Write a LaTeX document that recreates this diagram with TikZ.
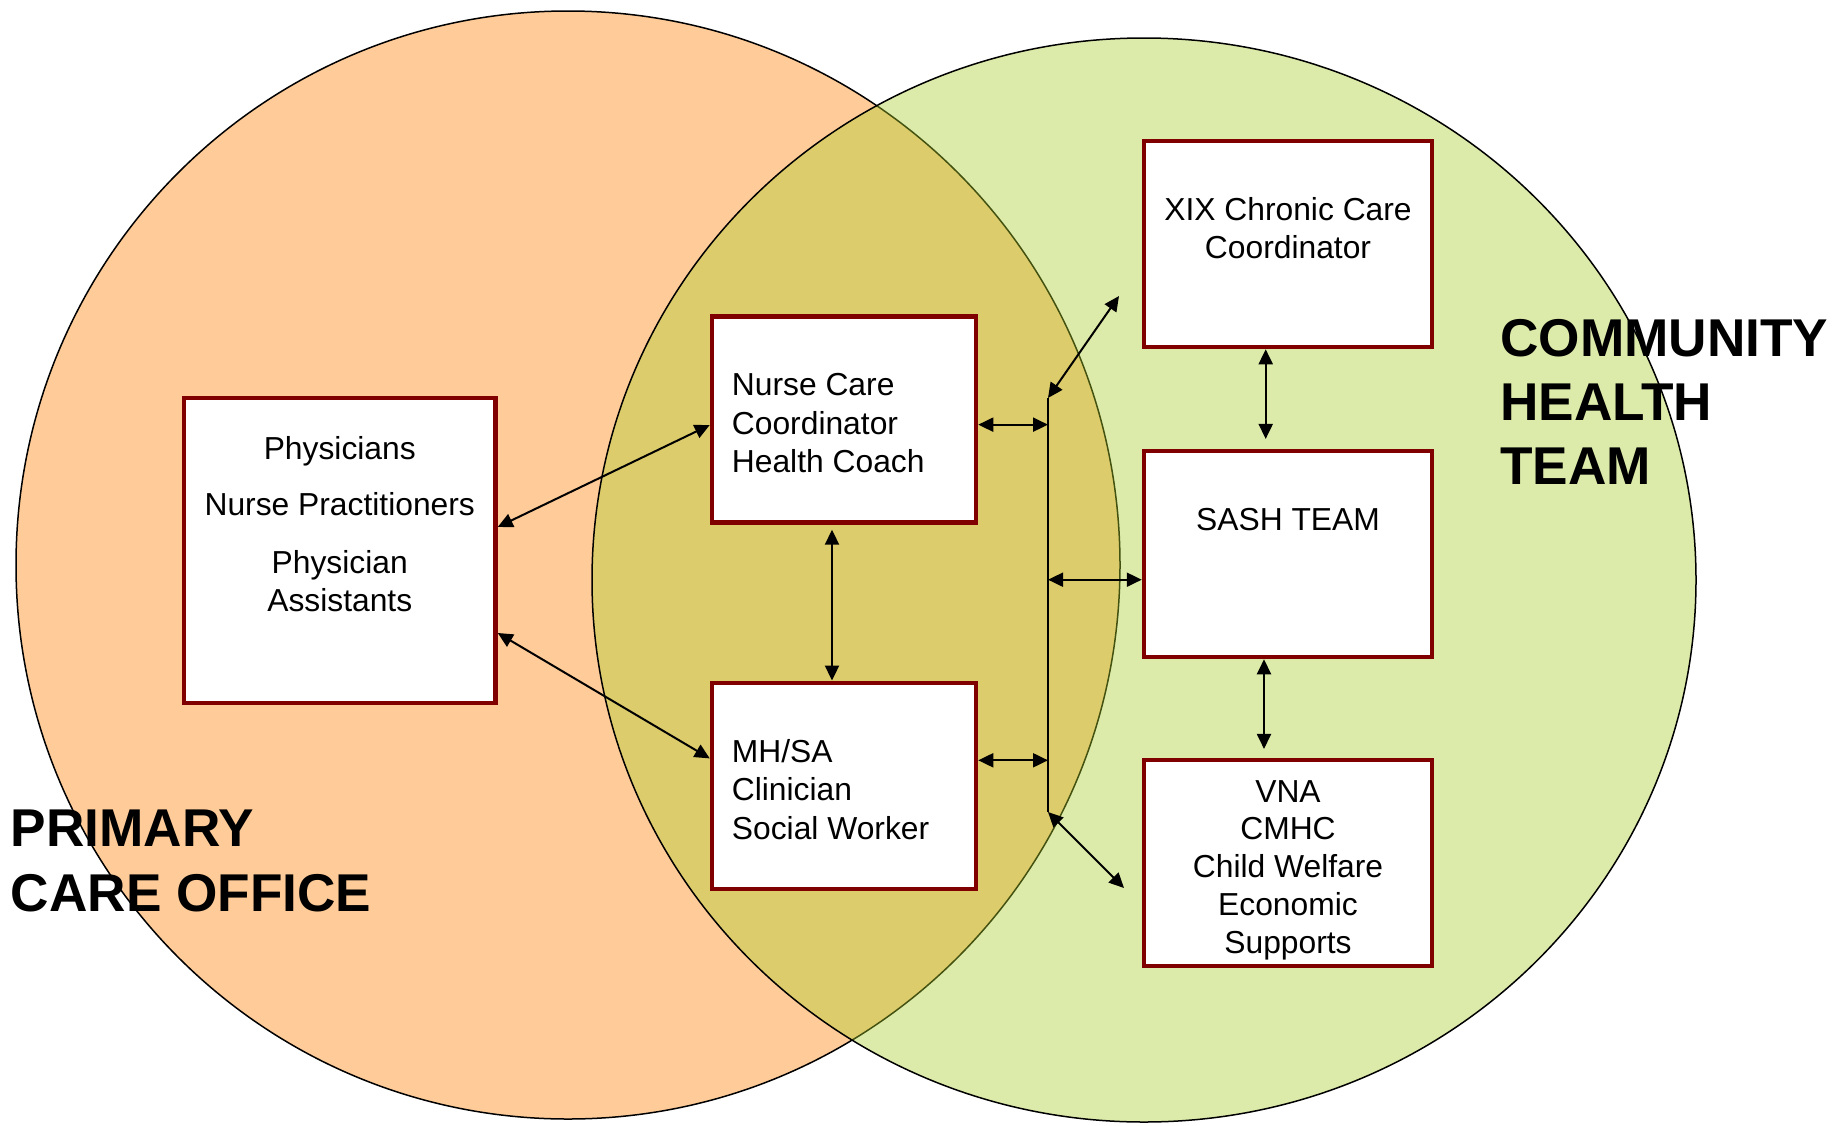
\documentclass[tikz,border=0pt]{standalone}
\usepackage{fontspec}
\setmainfont{Liberation Sans}
\usetikzlibrary{arrows.meta,calc}
\definecolor{pcoorange}{RGB}{255,204,153}
\definecolor{chtgreen}{RGB}{170,205,42}
\definecolor{boxred}{RGB}{128,0,0}
\tikzset{
  venn/.style={line width=0.75pt},
  boxnode/.style={draw=boxred, fill=white, line width=2.25pt, inner sep=0pt},
  wide/.style={minimum width=155.75pt, minimum height=152.5pt},
  midbox/.style={minimum width=132pt, minimum height=103pt},
  rightbox/.style={minimum width=144pt, minimum height=103pt},
  boxtext/.style={inner sep=0pt, font=\fontsize{15.9pt}{19pt}\selectfont},
  biglabel/.style={inner sep=0pt, align=left, anchor=base west},
  link/.style={line width=1pt, {Triangle[length=7.5pt,width=7pt]}-{Triangle[length=7.5pt,width=7pt]}},
  busline/.style={line width=1pt}
}
\begin{document}
\begin{tikzpicture}[x=0.5pt,y=-0.5pt]
\useasboundingbox (0,0) rectangle (1836,1125);
% circles
\fill[pcoorange] (568,565) ellipse [x radius=276pt, y radius=277pt];
\draw[venn] (568,565) ellipse [x radius=276pt, y radius=277pt];
\fill[chtgreen, fill opacity=0.4] (1144,580) ellipse [x radius=276pt, y radius=271pt];
\draw[venn] (1144,580) ellipse [x radius=276pt, y radius=271pt];

% boxes
\node[boxnode, wide] (pco) at (339.75,550.5) {};
\node[boxnode, midbox] (nurse) at (844,419.25) {};
\node[boxnode, midbox] (mh) at (844,785.8) {};
\node[boxnode, rightbox] (xix) at (1288,244) {};
\node[boxnode, rightbox] (sash) at (1288,554) {};
\node[boxnode, rightbox] (vna) at (1288,863) {};

% texts (multi-line nodes: base anchor near the last baseline)
\node[boxtext, align=center, anchor=base, font=\fontsize{15.9pt}{18.65pt}\selectfont] (pco-t) at (339.75,611)
  {Physicians\\[9.5pt] Nurse Practitioners\\[10.3pt] Physician\\ Assistants};
\node[boxtext, align=left, anchor=base west, font=\fontsize{15.9pt}{19.15pt}\selectfont] (nurse-t) at (731.5,472.4)
  {Nurse Care\\ Coordinator\\ Health Coach};
\node[boxtext, align=left, anchor=base west, font=\fontsize{15.9pt}{19.15pt}\selectfont] (mh-t) at (731.5,839)
  {MH/SA\\ Clinician\\ Social Worker};
\node[boxtext, align=center, anchor=base] (xix-t) at (1288,258.3)
  {XIX Chronic Care\\ Coordinator};
\node[boxtext, align=center, anchor=base] (sash-t) at (1288,530)
  {SASH TEAM};
\node[boxtext, align=center, anchor=base, font=\fontsize{15.9pt}{18.9pt}\selectfont] (vna-t) at (1288,953.2)
  {VNA\\ CMHC\\ Child Welfare\\ Economic\\ Supports};

\node[biglabel, font=\fontsize{26.6pt}{31.85pt}\selectfont\bfseries] (cht) at (1500,484) {COMMUNITY\\ HEALTH\\ TEAM};
\node[biglabel, font=\fontsize{26.6pt}{32.15pt}\selectfont\bfseries] (pcolabel) at (10.5,911) {PRIMARY\\ CARE OFFICE};

% bus
\coordinate (bustop) at (1048,398);
\coordinate (busbot) at (1048,812);
\coordinate (xixend) at (1119,296);
\coordinate (vnaend) at (1124,888);
\draw[busline] (bustop) -- (busbot);

% connectors
\draw[link] ([yshift=11.75pt]pco.east) -- ([yshift=-2.875pt]nurse.west);
\draw[link] ([yshift=-41.25pt]pco.east) -- ([yshift=13.7pt]mh.west);
\draw[link, shorten <=2.6pt] ([xshift=-6pt]nurse.south) -- ([xshift=-6pt]mh.north);

\coordinate (nurse-r) at ([yshift=-2.7pt]nurse.east);
\coordinate (mh-r) at ([yshift=12.75pt]mh.east);
\coordinate (sash-l) at ([yshift=-12.85pt]sash.west);
\draw[link] (nurse-r) -- (nurse-r -| bustop);
\draw[link] (mh-r) -- (mh-r -| bustop);
\draw[link] (sash-l -| bustop) -- (sash-l);
\draw[link] (bustop) -- (xixend);
\draw[link] (busbot) -- (vnaend);

\draw[link, shorten >=4.9pt] ([xshift=-11.15pt]xix.south) -- ([xshift=-11.15pt]sash.north);
\draw[link, shorten >=4.4pt] ([xshift=-12pt]sash.south) -- ([xshift=-12pt]vna.north);
\end{tikzpicture}
\end{document}
